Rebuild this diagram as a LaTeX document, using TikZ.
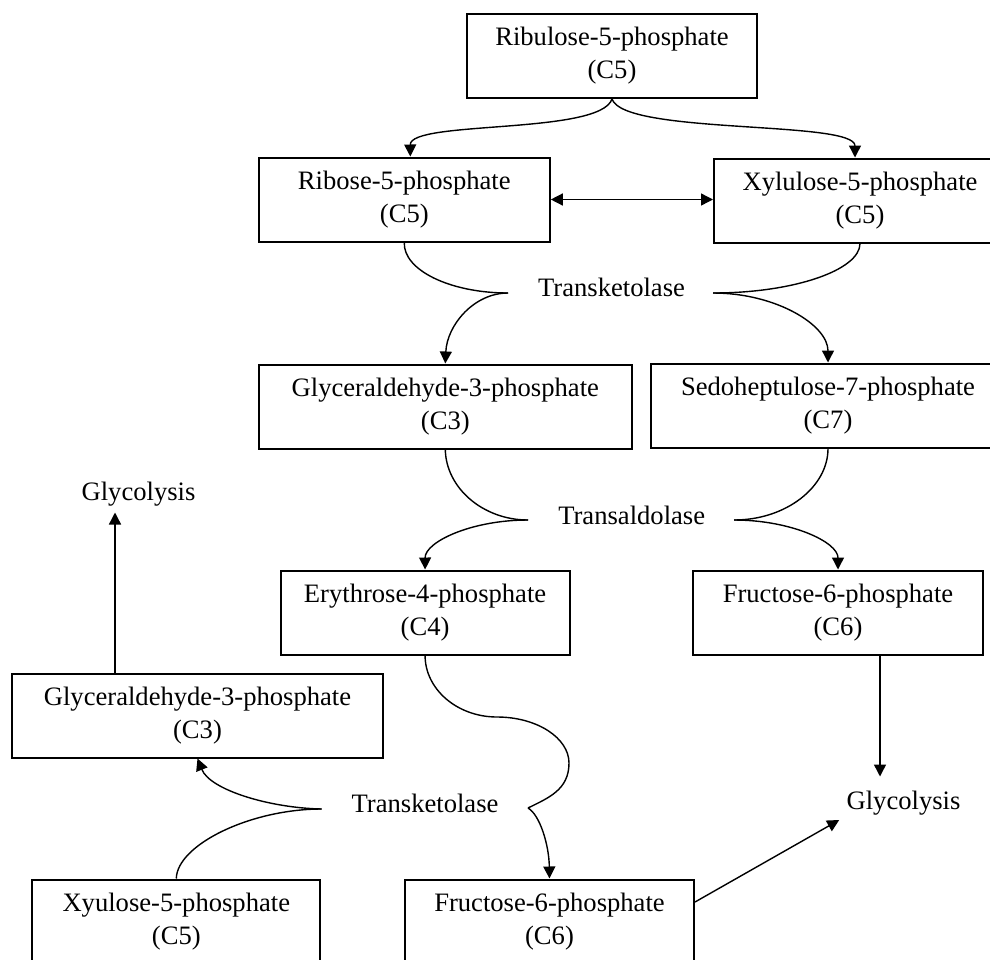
\documentclass[tikz,border=0pt]{standalone}
\usepackage{fontspec}
\setmainfont{Liberation Serif}
\usetikzlibrary{arrows.meta}
\newcommand{\diagfont}{\fontsize{13.3pt}{16.5pt}\selectfont}
\begin{document}
\begin{tikzpicture}[x=0.5pt,y=-0.5pt,
  box/.style={draw,line width=1pt,minimum height=42pt,inner sep=0pt,align=center,font=\diagfont},
  lbl/.style={inner xsep=3.5pt,inner ysep=3pt,font=\diagfont},
  conn/.style={line width=0.7pt},
  arr/.style={conn,-{Triangle[length=6pt,width=6pt]}},
  darr/.style={conn,{Triangle[length=6pt,width=6pt]}-{Triangle[length=6pt,width=6pt]}}]
\useasboundingbox (0,0) rectangle (990,959);
\clip (0,0) rectangle (990,959);
\fill[white] (0,0) rectangle (990,959);

% boxes
\node[box,minimum width=145pt]   (rbl) at (612,56)      {Ribulose-5-phosphate\\(C5)};
\node[box,minimum width=145.5pt] (rib) at (404.3,199.5) {Ribose-5-phosphate\\(C5)};
\node[box,minimum width=146pt]   (xyl) at (860,200.5)   {Xylulose-5-phosphate\\(C5)};
\node[box,minimum width=186.5pt] (gat) at (445.3,406.5) {Glyceraldehyde-3-phosphate\\(C3)};
\node[box,minimum width=177pt]   (sed) at (828,405.5)   {Sedoheptulose-7-phosphate\\(C7)};
\node[box,minimum width=144.5pt] (ery) at (425.1,612.5) {Erythrose-4-phosphate\\(C4)};
\node[box,minimum width=145pt]   (frr) at (838,612.5)   {Fructose-6-phosphate\\(C6)};
\node[box,minimum width=185.5pt] (gal) at (197.5,715.5) {Glyceraldehyde-3-phosphate\\(C3)};
\node[box,minimum width=144pt]   (xyb) at (176.3,921.5) {Xyulose-5-phosphate\\(C5)};
\node[box,minimum width=144.5pt] (frb) at (549.5,921.5) {Fructose-6-phosphate\\(C6)};

% labels
\node[lbl] (tk1)  at (611.5,287) {Transketolase};
\node[lbl] (ta)   at (631.7,515) {Transaldolase};
\node[lbl] (tk2)  at (425,803)   {Transketolase};
\node[lbl] (glyl) at (138.5,494) {Glycolysis};
\node[lbl] (glyr) at (903.5,803) {Glycolysis};

% cusp / bend points
\coordinate (c1l) at (508,293);
\coordinate (c1r) at (713,293);
\coordinate (c2l) at (528,520);
\coordinate (c2r) at (734,520);
\coordinate (c3l) at (321.7,809);
\coordinate (c3r) at (528,808);
\coordinate (bend1) at (497,717);
\coordinate (bend2) at (569,763);

% Ribulose -> Ribose / Xylulose
\draw[arr] (rbl.south) .. controls (600,135) and (410,120) .. ([xshift=3pt]rib.north);
\draw[arr] (rbl.south) .. controls (624,135) and (855,120) .. ([xshift=-2.5pt]xyl.north);
\draw[darr] (rib.east) -- (rib.east -| xyl.west);

% Transketolase (top)
\draw[conn] (rib.south) .. controls (403,270) and (450,293) .. (c1l);
\draw[arr]  (c1l) .. controls (474,293) and (447,325) .. (gat.north);
\draw[conn] (xyl.south) .. controls (860,270) and (794,293) .. (c1r);
\draw[arr]  (c1r) .. controls (776,293) and (828,325) .. (sed.north);

% Transaldolase
\draw[conn] (gat.south) .. controls (446,488) and (483,520) .. (c2l);
\draw[arr]  (c2l) .. controls (471,520) and (425,542) .. (ery.north);
\draw[conn] (sed.south) .. controls (828,487) and (786,520) .. (c2r);
\draw[arr]  (c2r) .. controls (791,520) and (838,542) .. (frr.north);

% Transketolase (bottom)
\draw[conn] (ery.south) .. controls (425,689) and (457,717) .. (bend1)
            .. controls (537,717) and (569,738) .. (bend2)
            .. controls (569,790) and (548,798) .. (c3r);
\draw[arr]  (c3r) .. controls (540,815) and (549,845) .. (frb.north);
\draw[conn] (xyb.north) .. controls (177,845) and (250,809) .. (c3l);
\draw[arr]  (c3l) .. controls (270,808) and (210,790) .. (gal.south);

% Glycolysis
\coordinate (gout) at ([xshift=-41.25pt]gal.north);
\draw[arr] (gout) -- (gout |- glyl.south);
\coordinate (frout) at ([xshift=21pt]frr.south);
\coordinate (glyrtop) at ([yshift=4pt]glyr.north);
\draw[arr] (frout) -- (frout |- glyrtop);
\draw[arr] ([yshift=9.75pt]frb.east) -- ([yshift=-8.5pt]glyr.west);
\end{tikzpicture}
\end{document}
